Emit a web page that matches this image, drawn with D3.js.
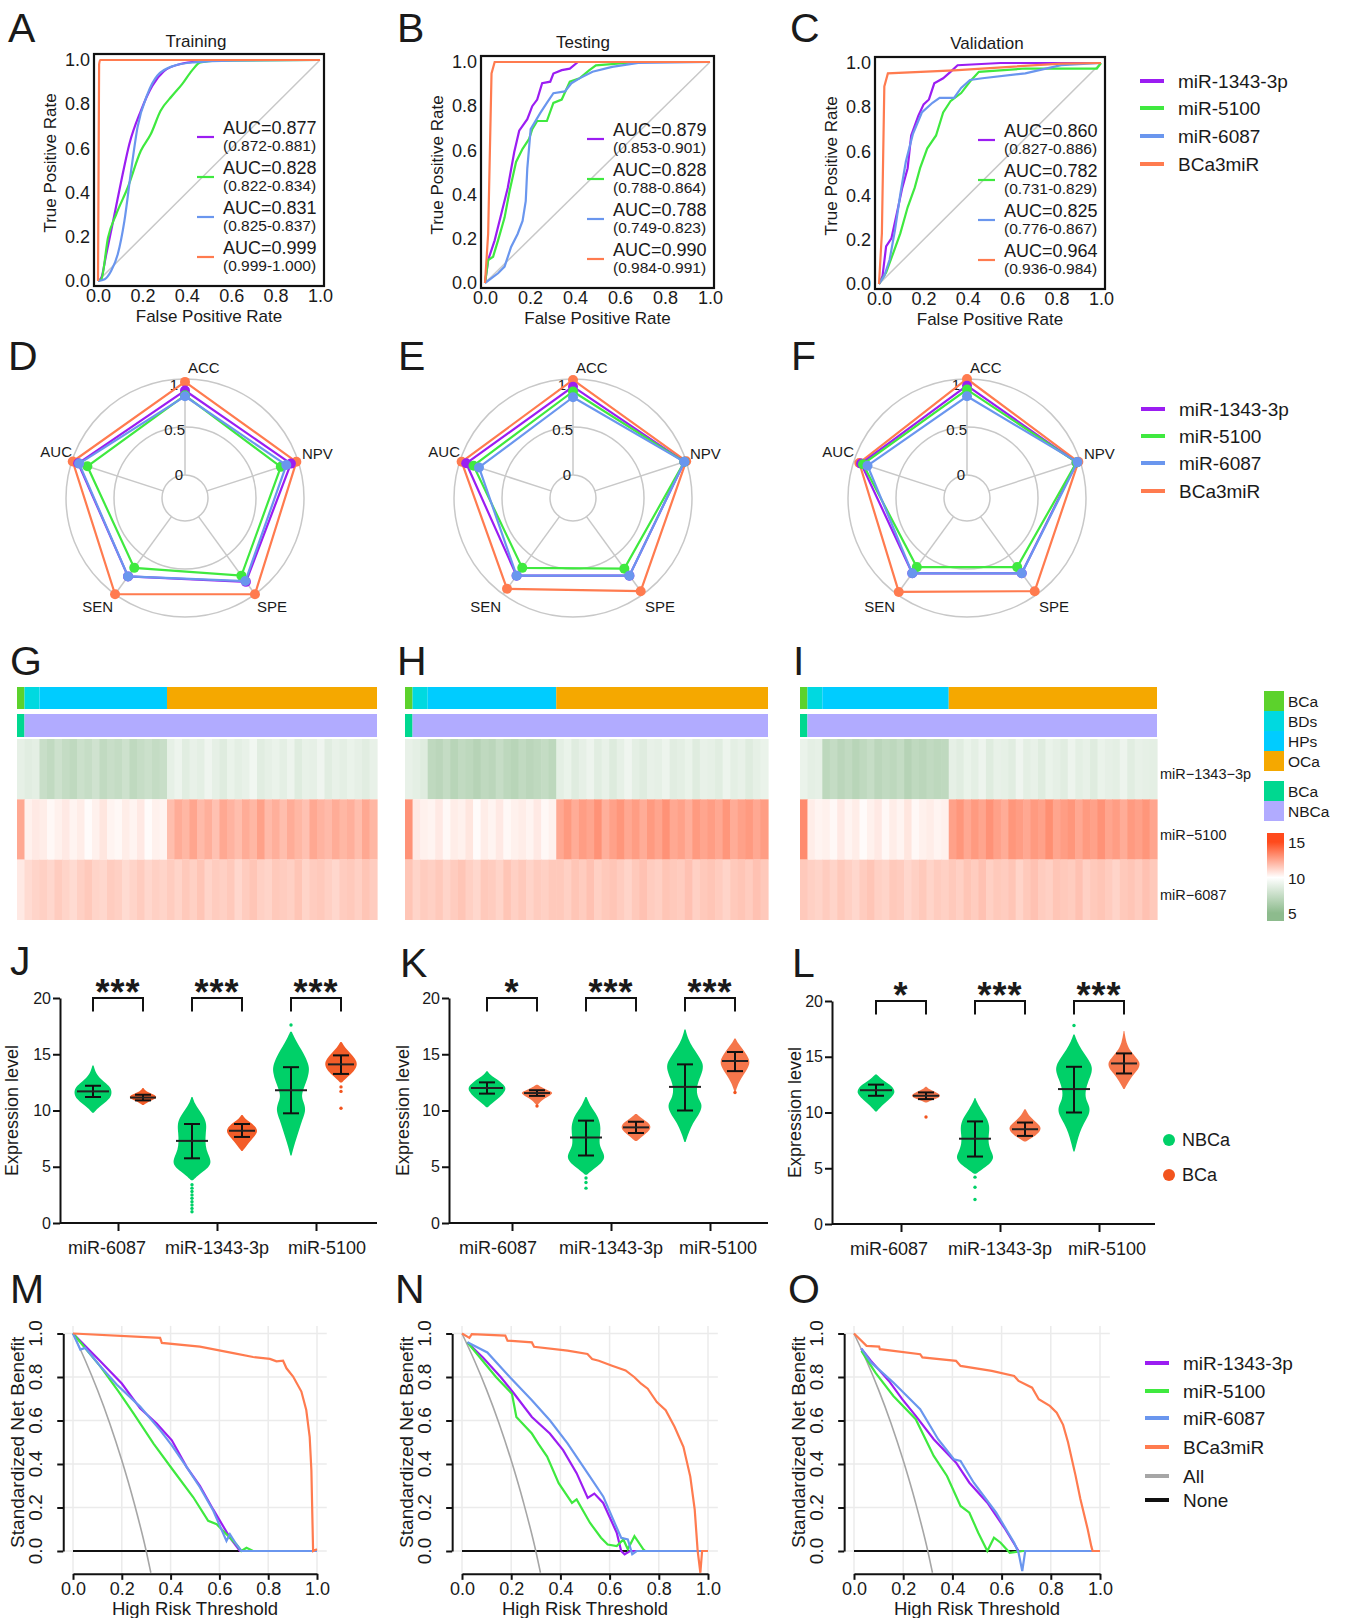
<!DOCTYPE html>
<html>
<head>
<meta charset="utf-8">
<script src="https://cdn.jsdelivr.net/npm/d3@7"></script>
<style>
  body { margin: 0; background: #fff; }
  svg { display: block; }
  text { font-family: "Liberation Sans", Arial, sans-serif; fill: #1a1a1a; }
</style>
</head>
<body>
<div id="figure"></div>
<script>
// ---------------- data ----------------
const models = ["miR-1343-3p", "miR-5100", "miR-6087", "BCa3miR"];
const modelColors = ["#9b1df2", "#3fe93f", "#6a96ee", "#ff7b4f"];

// ROC curves, [FPR, TPR]
const rocTrain1343 = [[0,0],[0.015,0.015],[0.037,0.12],[0.074,0.30],[0.111,0.483],[0.141,0.619],[0.193,0.77],[0.245,0.884],[0.297,0.949],[0.371,0.982],[0.461,0.994],[0.61,1],[1,1]];
const rocTrain5100 = [[0,0],[0.015,0.008],[0.045,0.196],[0.082,0.302],[0.134,0.423],[0.193,0.589],[0.238,0.665],[0.282,0.77],[0.334,0.838],[0.379,0.891],[0.423,0.952],[0.461,0.989],[0.535,0.997],[1,1]];
const rocTrain6087 = [[0,0],[0.03,0.008],[0.059,0.045],[0.089,0.121],[0.119,0.272],[0.149,0.498],[0.178,0.695],[0.223,0.846],[0.267,0.929],[0.342,0.974],[0.431,0.989],[0.609,0.997],[1,1]];
const rocTrain3miR = [[0,0],[0.005,0.98],[0.01,1],[1,1]];

const rocTest1343 = [[0,0],[0.014,0.104],[0.043,0.193],[0.072,0.311],[0.101,0.43],[0.13,0.593],[0.152,0.689],[0.188,0.741],[0.21,0.8],[0.232,0.83],[0.254,0.904],[0.29,0.911],[0.304,0.948],[0.341,0.963],[0.377,0.97],[0.413,1],[1,1]];
const rocTest5100 = [[0,0],[0.014,0.104],[0.036,0.119],[0.058,0.193],[0.087,0.296],[0.109,0.415],[0.138,0.548],[0.167,0.607],[0.196,0.652],[0.21,0.696],[0.232,0.733],[0.275,0.733],[0.304,0.815],[0.341,0.83],[0.377,0.911],[0.42,0.926],[0.464,0.963],[0.493,0.985],[0.681,1],[1,1]];
const rocTest6087 = [[0,0],[0.058,0.044],[0.087,0.074],[0.116,0.163],[0.145,0.222],[0.167,0.281],[0.181,0.37],[0.188,0.519],[0.203,0.696],[0.246,0.77],[0.275,0.815],[0.304,0.859],[0.355,0.867],[0.384,0.904],[0.42,0.926],[0.478,0.956],[0.565,0.978],[0.681,0.996],[1,1]];
const rocTest3miR = [[0,0],[0.014,0.222],[0.029,0.948],[0.043,1],[1,1]];

const rocVal1343 = [[0,0],[0.016,0.037],[0.032,0.17],[0.056,0.207],[0.08,0.318],[0.105,0.436],[0.129,0.524],[0.145,0.672],[0.177,0.761],[0.201,0.813],[0.225,0.835],[0.249,0.908],[0.289,0.931],[0.322,0.96],[0.354,0.99],[0.547,1],[1,1]];
const rocVal5100 = [[0,0],[0.032,0.052],[0.064,0.14],[0.096,0.229],[0.129,0.347],[0.161,0.436],[0.185,0.524],[0.217,0.613],[0.257,0.672],[0.289,0.776],[0.322,0.827],[0.37,0.864],[0.41,0.916],[0.45,0.96],[0.659,0.975],[0.981,0.975],[1,1]];
const rocVal6087 = [[0,0],[0.024,0.037],[0.048,0.111],[0.072,0.244],[0.096,0.406],[0.121,0.554],[0.153,0.68],[0.193,0.776],[0.241,0.82],[0.273,0.842],[0.338,0.842],[0.37,0.887],[0.41,0.923],[0.466,0.931],[0.659,0.953],[0.82,0.99],[1,1]];
const rocVal3miR = [[0,0],[0.013,0.229],[0.024,0.894],[0.04,0.953],[0.338,0.967],[0.82,0.997],[1,1]];

const aucTrain = ["0.877", "0.828", "0.831", "0.999"];
const ciTrain = ["0.872-0.881", "0.822-0.834", "0.825-0.837", "0.999-1.000"];
const aucTest = ["0.879", "0.828", "0.788", "0.990"];
const ciTest = ["0.853-0.901", "0.788-0.864", "0.749-0.823", "0.984-0.991"];
const aucVal = ["0.860", "0.782", "0.825", "0.964"];
const ciVal = ["0.827-0.886", "0.731-0.829", "0.776-0.867", "0.936-0.984"];

// radar, one row per model, columns follow radarAxes
const radarAxes = ["ACC", "NPV", "SPE", "SEN", "AUC"];
const radarTicks = [0, 0.5, 1];
const radarTrain = [[0.88,0.92,0.84,0.77,0.93],[0.83,0.81,0.76,0.66,0.83],[0.82,0.87,0.83,0.77,0.92],[0.97,0.98,1.0,1.0,0.99]];
const radarTest = [[0.92,0.98,0.76,0.76,0.93],[0.87,0.98,0.67,0.66,0.85],[0.81,0.98,0.76,0.76,0.79],[0.99,1.0,0.96,0.93,0.98]];
const radarVal = [[0.93,0.96,0.73,0.73,0.92],[0.89,0.96,0.65,0.65,0.90],[0.82,0.97,0.73,0.73,0.85],[1.0,0.98,0.96,0.97,0.94]];

// heatmap
const hmGenes = ["miR\u22121343\u22123p", "miR\u22125100", "miR\u22126087"];
const hmGroups = ["BCa", "BDs", "HPs", "OCa"];
const hmGroupCols = [1, 2, 17, 28];
const hmStatus = ["BCa", "NBCa"];
const hmG1343 = [8.9, 8.7,8.8, 7.6,7.3,7.8,7.4,7.2,7.7,7.5,7.9,7.3,7.6,7.4,7.8,7.2,7.5,7.7,7.4,7.6, 8.9,9.2,8.7,9.0,8.8,9.3,8.9,8.6,9.1,8.8,9.0,9.4,8.7,8.9,9.1,8.8,9.2,8.6,9.0,8.9,9.3,8.7,9.0,8.8,9.1,8.9,8.7,9.0];
const hmG5100 = [12.4, 10.4,10.6, 10.5,10.2,10.4,10.6,10.3,10.5,10.1,10.4,10.7,10.3,10.2,10.5,10.3,10.6,10.1,10.4,10.3, 11.8,12.3,12.0,12.5,11.9,12.2,11.7,12.4,12.1,11.8,12.3,12.0,12.6,11.9,12.2,11.8,12.3,12.0,11.7,12.4,12.1,11.9,12.3,12.0,12.2,11.8,12.4,12.0];
const hmG6087 = [10.6, 11.0,11.2, 11.3,11.1,11.4,11.2,11.0,11.3,11.5,11.2,11.1,11.4,11.3,11.0,11.2,11.4,11.1,11.3,11.2, 11.4,11.2,11.5,11.3,11.6,11.2,11.4,11.3,11.5,11.1,11.4,11.6,11.3,11.2,11.5,11.4,11.3,11.6,11.2,11.4,11.5,11.3,11.1,11.4,11.5,11.3,11.6,11.4];
const hmH1343 = [9.0, 8.8,8.6, 7.2,7.0,7.4,6.9,7.3,7.1,6.8,7.2,7.0,7.5,7.1,6.9,7.3,7.0,7.2,7.4,7.1, 8.8,9.1,8.6,8.9,9.2,8.7,9.0,8.5,8.9,9.3,8.8,8.6,9.0,8.9,9.2,8.7,8.8,9.1,8.6,9.0,8.9,8.7,9.2,8.8,9.0,8.6,8.9,9.1];
const hmH5100 = [13.0, 10.6,10.4, 10.3,10.6,10.2,10.5,10.4,10.7,10.1,10.5,10.3,10.6,10.2,10.4,10.5,10.3,10.6,10.2,10.4, 12.4,12.8,12.3,12.7,12.5,13.0,12.2,12.6,12.9,12.4,12.7,12.3,12.8,12.5,13.0,12.4,12.6,12.2,12.8,12.5,12.7,12.4,12.9,12.3,12.6,12.8,12.4,12.7];
const hmH6087 = [11.6, 11.2,11.4, 11.3,11.5,11.2,11.4,11.6,11.3,11.1,11.5,11.4,11.2,11.6,11.3,11.5,11.2,11.4,11.3,11.5, 11.5,11.3,11.6,11.4,11.7,11.3,11.5,11.6,11.4,11.2,11.5,11.7,11.4,11.3,11.6,11.5,11.4,11.7,11.3,11.5,11.6,11.4,11.2,11.5,11.6,11.4,11.7,11.5];
const hmI1343 = [9.1, 8.8,8.9, 7.1,7.4,7.0,7.3,6.9,7.2,7.5,7.0,7.3,7.1,7.4,6.8,7.2,7.0,7.3,7.1,7.2, 8.9,8.7,9.1,8.8,9.2,8.6,9.0,8.9,8.7,9.3,8.8,9.0,8.6,9.1,8.9,8.7,9.2,8.8,9.0,8.6,9.1,8.9,8.8,9.2,8.7,9.0,8.9,8.8];
const hmI5100 = [13.2, 10.5,10.3, 10.4,10.2,10.6,10.3,10.5,10.1,10.4,10.6,10.2,10.5,10.3,10.7,10.2,10.4,10.5,10.3,10.4, 12.6,12.9,12.4,12.8,12.5,13.0,12.6,12.3,12.9,12.7,12.4,12.8,12.6,13.1,12.5,12.7,12.9,12.4,12.8,12.6,13.0,12.5,12.7,12.3,12.8,12.6,12.9,12.5];
const hmI6087 = [11.5, 11.3,11.2, 11.4,11.2,11.5,11.3,11.1,11.4,11.6,11.3,11.2,11.5,11.4,11.1,11.3,11.5,11.2,11.4,11.3, 11.5,11.3,11.6,11.4,11.7,11.3,11.5,11.4,11.6,11.2,11.5,11.7,11.4,11.3,11.6,11.5,11.4,11.7,11.3,11.5,11.6,11.4,11.2,11.5,11.6,11.4,11.7,11.5];
const hmLegendTicks = [5, 10, 15];

// expression swarms: outline as [expression, relative width]
const exprGenes = ["miR-6087", "miR-1343-3p", "miR-5100"];
const exprTicks = [0, 5, 10, 15, 20];
const swJGreen = [
  [[9.8,0.04],[10.2,0.25],[10.6,0.55],[11.0,0.85],[11.5,1.0],[12.0,0.95],[12.4,0.7],[12.8,0.4],[13.3,0.15],[14.0,0.03]],
  [[3.8,0.05],[4.2,0.3],[4.6,0.6],[5.0,0.9],[5.4,1.0],[5.9,0.92],[6.5,0.75],[7.2,0.7],[8.0,0.72],[8.8,0.78],[9.5,0.6],[10.1,0.35],[10.6,0.15],[11.2,0.03]],
  [[6.0,0.03],[6.8,0.15],[7.6,0.3],[8.4,0.45],[9.2,0.6],[10.0,0.78],[10.6,0.7],[11.2,0.55],[11.8,0.62],[12.6,0.82],[13.4,0.95],[14.0,0.95],[14.8,0.75],[15.4,0.55],[16.0,0.33],[16.6,0.15],[17.0,0.04]]];
const swJOrange = [
  [[10.5,0.04],[10.8,0.3],[11.0,0.6],[11.2,0.74],[11.4,0.6],[11.6,0.3],[11.8,0.1],[12.0,0.03]],
  [[6.4,0.03],[6.9,0.25],[7.4,0.5],[7.9,0.75],[8.2,0.82],[8.6,0.7],[9.0,0.4],[9.3,0.15],[9.6,0.03]],
  [[12.5,0.05],[13.0,0.35],[13.5,0.7],[14.1,0.88],[14.6,0.75],[15.1,0.5],[15.6,0.2],[16.1,0.03]]];
const swKGreen = [
  [[10.3,0.04],[10.7,0.3],[11.2,0.7],[11.7,0.95],[12.1,1.0],[12.5,0.75],[12.9,0.4],[13.2,0.15],[13.5,0.03]],
  [[4.3,0.05],[4.8,0.4],[5.3,0.8],[5.8,1.0],[6.3,0.9],[6.9,0.7],[7.6,0.72],[8.4,0.78],[9.2,0.7],[9.9,0.45],[10.5,0.2],[11.2,0.03]],
  [[7.2,0.03],[7.8,0.15],[8.5,0.3],[9.2,0.55],[10.0,0.85],[10.6,0.9],[11.2,0.65],[12.0,0.6],[12.8,0.75],[13.6,0.95],[14.2,0.95],[14.9,0.7],[15.6,0.4],[16.4,0.15],[17.2,0.03]]];
const swKOrange = [
  [[10.5,0.03],[11.0,0.3],[11.4,0.75],[11.6,0.85],[11.8,0.55],[12.1,0.2],[12.3,0.03]],
  [[7.3,0.05],[7.8,0.4],[8.2,0.7],[8.6,0.8],[9.0,0.6],[9.3,0.3],[9.7,0.04]],
  [[11.7,0.03],[12.5,0.2],[13.2,0.45],[13.8,0.7],[14.4,0.8],[15.0,0.6],[15.6,0.35],[16.0,0.15],[16.4,0.03]]];
const swLGreen = [
  [[10.1,0.04],[10.6,0.3],[11.1,0.65],[11.6,0.95],[12.0,1.0],[12.5,0.75],[12.9,0.35],[13.4,0.04]],
  [[4.5,0.05],[5.0,0.45],[5.5,0.85],[6.0,1.0],[6.5,0.85],[7.2,0.7],[8.0,0.72],[8.8,0.78],[9.6,0.6],[10.3,0.3],[11.0,0.08],[11.3,0.02]],
  [[6.5,0.03],[7.3,0.15],[8.2,0.3],[9.0,0.5],[9.8,0.8],[10.5,0.85],[11.2,0.6],[12.0,0.6],[12.8,0.75],[13.6,0.95],[14.2,0.95],[14.9,0.7],[15.6,0.4],[16.4,0.15],[17.0,0.03]]];
const swLOrange = [
  [[10.9,0.03],[11.2,0.5],[11.5,0.85],[11.8,0.55],[12.1,0.15],[12.3,0.03]],
  [[7.4,0.05],[7.8,0.45],[8.3,0.8],[8.7,0.85],[9.1,0.6],[9.6,0.25],[10.3,0.03]],
  [[12.1,0.03],[12.8,0.25],[13.5,0.55],[14.0,0.8],[14.5,0.85],[15.0,0.6],[15.5,0.35],[16.2,0.12],[17.3,0.02]]];
// single outlying samples
const outJGreen = [[], [3.4,3.1,2.8,2.5,2.2,1.9,1.6,1.3,1.0], [17.6]];
const outJOrange = [[], [], [12.1,11.7,10.2]];
const outKGreen = [[], [4.0,3.6,3.1], []];
const outKOrange = [[10.4], [], [11.6]];
const outLGreen = [[], [4.2,3.3,2.2], [17.8]];
const outLOrange = [[9.6], [], []];
// mean, mean+SD, mean-SD
const barJGreen = [[11.7,12.2,11.2],[7.3,8.8,5.75],[11.8,13.85,9.75]];
const barJOrange = [[11.15,11.4,10.9],[8.2,8.8,7.65],[14.1,14.9,13.25]];
const barKGreen = [[12.0,12.5,11.5],[7.6,9.1,6.0],[12.1,14.1,10.0]];
const barKOrange = [[11.55,11.8,11.3],[8.5,9.0,8.0],[14.4,15.2,13.5]];
const barLGreen = [[12.0,12.5,11.5],[7.65,9.2,6.05],[12.1,14.1,10.0]];
const barLOrange = [[11.5,11.8,11.2],[8.5,9.1,7.9],[14.4,15.3,13.5]];
const starsJ = ["***", "***", "***"];
const starsK = ["*", "***", "***"];
const starsL = ["*", "***", "***"];

// decision curves, [threshold, standardized net benefit]
const dcaNone = [[0,0],[1,0]];
const dcaAll = [[0,1],[0.05,0.877],[0.1,0.741],[0.15,0.589],[0.2,0.417],[0.25,0.223],[0.3,0.0],[0.319,-0.1]];
const dcaM1343 = [[0,1],[0.112,0.872],[0.2,0.77],[0.275,0.656],[0.343,0.586],[0.405,0.509],[0.466,0.386],[0.52,0.30],[0.575,0.19],[0.643,0.062],[0.684,0],[1,0]];
const dcaM5100 = [[0,1],[0.112,0.849],[0.187,0.733],[0.248,0.633],[0.33,0.494],[0.411,0.37],[0.493,0.247],[0.554,0.139],[0.589,0.123],[0.629,0.077],[0.67,0.03],[0.69,0.0],[0.711,0.015],[0.738,0],[1,0]];
const dcaM6087 = [[0,1],[0.03,0.926],[0.05,0.934],[0.112,0.849],[0.18,0.764],[0.275,0.664],[0.357,0.556],[0.405,0.486],[0.466,0.386],[0.52,0.293],[0.575,0.185],[0.629,0.046],[0.643,0.077],[0.67,0.03],[0.69,0],[1,0]];
const dcaM3miR = [[0,1],[0.357,0.98],[0.364,0.957],[0.52,0.94],[0.657,0.91],[0.738,0.892],[0.807,0.883],[0.834,0.872],[0.861,0.875],[0.875,0.84],[0.902,0.802],[0.936,0.733],[0.956,0.648],[0.97,0.525],[0.977,0.37],[0.984,0],[1,0.008]];
const dcaN1343 = [[0.022,0.959],[0.085,0.89],[0.158,0.799],[0.212,0.723],[0.284,0.616],[0.357,0.54],[0.411,0.464],[0.466,0.358],[0.511,0.244],[0.538,0.264],[0.574,0.221],[0.629,0.084],[0.647,0],[0.661,-0.015],[0.683,0],[1,0]];
const dcaN5100 = [[0.022,0.96],[0.139,0.799],[0.203,0.723],[0.221,0.616],[0.284,0.54],[0.31,0.494],[0.346,0.434],[0.393,0.312],[0.447,0.221],[0.466,0.237],[0.52,0.13],[0.565,0.061],[0.592,0.03],[0.629,0.023],[0.656,0.053],[0.674,0.008],[0.701,0.068],[0.737,0.008],[0.745,0],[1,0]];
const dcaN6087 = [[0.022,0.96],[0.103,0.913],[0.194,0.8],[0.284,0.693],[0.357,0.601],[0.429,0.495],[0.52,0.342],[0.574,0.251],[0.629,0.107],[0.647,0.061],[0.674,0.053],[0.692,-0.015],[0.71,0],[1,0]];
const dcaN3miR = [[0,1],[0.03,0.98],[0.04,0.997],[0.176,0.99],[0.185,0.967],[0.284,0.959],[0.293,0.939],[0.429,0.921],[0.51,0.906],[0.529,0.883],[0.556,0.875],[0.61,0.852],[0.665,0.83],[0.701,0.799],[0.728,0.769],[0.755,0.746],[0.792,0.685],[0.828,0.647],[0.864,0.571],[0.9,0.479],[0.928,0.342],[0.946,0.19],[0.958,0],[0.969,-0.1],[0.976,0],[1,0]];
const dcaO1343 = [[0.03,0.93],[0.069,0.874],[0.142,0.782],[0.196,0.698],[0.251,0.621],[0.324,0.514],[0.415,0.406],[0.469,0.314],[0.542,0.222],[0.615,0.1],[0.669,0],[1,0]];
const dcaO5100 = [[0.03,0.92],[0.087,0.82],[0.16,0.713],[0.251,0.606],[0.324,0.437],[0.378,0.345],[0.433,0.207],[0.469,0.176],[0.505,0.084],[0.542,0],[0.569,0.061],[0.596,0.038],[0.633,-0.008],[0.687,0],[1,0]];
const dcaO6087 = [[0.03,0.93],[0.069,0.867],[0.16,0.775],[0.269,0.652],[0.342,0.514],[0.406,0.422],[0.433,0.414],[0.487,0.314],[0.578,0.176],[0.651,0.038],[0.669,-0.008],[0.684,-0.092],[0.696,0],[1,0]];
const dcaO3miR = [[0,1],[0.051,0.943],[0.102,0.94],[0.105,0.928],[0.269,0.905],[0.278,0.89],[0.415,0.874],[0.433,0.851],[0.56,0.828],[0.651,0.805],[0.669,0.782],[0.724,0.751],[0.751,0.698],[0.796,0.667],[0.824,0.636],[0.85,0.58],[0.87,0.5],[0.9,0.35],[0.92,0.24],[0.95,0.1],[0.965,0.02],[0.97,0],[1,0]];
const dcaTicks = [0, 0.2, 0.4, 0.6, 0.8, 1];

// ---------------- drawing ----------------
const svg = d3.select("#figure").append("svg").attr("width", 1349).attr("height", 1618);
const fmt1 = d3.format(".1f");
const green = "#00d068", orange = "#f2541e";

function letter(t, x, y) {
  svg.append("text").attr("x", x).attr("y", y).attr("font-size", 41).text(t);
}

function styleAxis(a, size) {
  a.selectAll("text").attr("font-size", size);
  a.selectAll("line").attr("stroke", "#111").attr("stroke-width", 2);
  a.select(".domain").attr("stroke", "#111").attr("stroke-width", 2);
}

function drawROC(box, title, titleX, titleY, curves, aucs, cis, smooth) {
  const x = d3.scaleLinear().domain([0, 1]).range([box.x0 + 4, box.x1 - 4]);
  const y = d3.scaleLinear().domain([0, 1]).range([box.y1 - 5, box.y0 + 6]);
  const g = svg.append("g");
  g.append("line").attr("x1", x(0)).attr("y1", y(0)).attr("x2", x(1)).attr("y2", y(1))
    .attr("stroke", "#c8c8c8").attr("stroke-width", 1.5);
  const line = d3.line().x(d => x(d[0])).y(d => y(d[1]))
    .curve(smooth ? d3.curveMonotoneX : d3.curveLinear);
  curves.forEach((c, i) => {
    g.append("path").datum(c).attr("d", line).attr("fill", "none")
      .attr("stroke", modelColors[i]).attr("stroke-width", 2.2);
  });
  g.append("rect").attr("x", box.x0).attr("y", box.y0)
    .attr("width", box.x1 - box.x0).attr("height", box.y1 - box.y0)
    .attr("fill", "none").attr("stroke", "#111").attr("stroke-width", 2.2);

  const ticks = [0, 0.2, 0.4, 0.6, 0.8, 1];
  const ay = g.append("g").attr("transform", `translate(${box.x0},0)`)
    .call(d3.axisLeft(y).tickValues(ticks).tickFormat(fmt1).tickSize(0).tickPadding(4));
  const ax = g.append("g").attr("transform", `translate(0,${box.y1})`)
    .call(d3.axisBottom(x).tickValues(ticks).tickFormat(fmt1).tickSize(0).tickPadding(3));
  [ay, ax].forEach(a => { a.select(".domain").remove(); a.selectAll("text").attr("font-size", 18); });

  g.append("text").attr("x", titleX).attr("y", titleY).attr("text-anchor", "middle")
    .attr("font-size", 17).text(title);
  g.append("text").attr("x", (box.x0 + box.x1) / 2).attr("y", box.y1 + 36)
    .attr("text-anchor", "middle").attr("font-size", 17).text("False Positive Rate");
  g.append("text").attr("transform", `translate(${box.x0 - 38},${(box.y0 + box.y1) / 2 - 7}) rotate(-90)`)
    .attr("text-anchor", "middle").attr("font-size", 17).text("True Positive Rate");

  aucs.forEach((a, i) => {
    const by = box.y0 + 80 + i * 40;
    g.append("line").attr("x1", box.x1 - 127).attr("x2", box.x1 - 110)
      .attr("y1", by + 3).attr("y2", by + 3)
      .attr("stroke", modelColors[i]).attr("stroke-width", 2.2);
    g.append("text").attr("x", box.x1 - 101).attr("y", by).attr("font-size", 18).text("AUC=" + a);
    g.append("text").attr("x", box.x1 - 101).attr("y", by + 17).attr("font-size", 15.5).text("(" + cis[i] + ")");
  });
}

function drawRadar(cx, cy, vals) {
  const g = svg.append("g");
  const r = d3.scaleLinear().domain([0, 1]).range([23, 119]);
  const pt = (v, i) => {
    const a = -Math.PI / 2 + i * 2 * Math.PI / radarAxes.length;
    return [cx + r(v) * Math.cos(a), cy + r(v) * Math.sin(a)];
  };
  radarTicks.forEach(v => {
    g.append("circle").attr("cx", cx).attr("cy", cy).attr("r", r(v))
      .attr("fill", "none").attr("stroke", "#c8c8c8").attr("stroke-width", 1.5);
  });
  radarAxes.forEach((a, i) => {
    const p0 = pt(0, i), p1 = pt(1, i);
    g.append("line").attr("x1", p0[0]).attr("y1", p0[1]).attr("x2", p1[0]).attr("y2", p1[1])
      .attr("stroke", "#c8c8c8").attr("stroke-width", 1.5);
  });
  const tickDy = [5, 8, 11], tickDx = [-2, 0, -7];
  radarTicks.forEach((v, i) => {
    g.append("text").attr("x", cx + tickDx[i]).attr("y", cy - r(v) + tickDy[i])
      .attr("text-anchor", "end").attr("font-size", 15).text(v);
  });
  [3, 0, 1, 2].forEach(m => {
    const pts = vals[m].map((v, i) => pt(v, i));
    g.append("path").attr("d", d3.line().curve(d3.curveLinearClosed)(pts))
      .attr("fill", "none").attr("stroke", modelColors[m]).attr("stroke-width", 2.2);
    pts.forEach(p => g.append("circle").attr("cx", p[0]).attr("cy", p[1]).attr("r", 5).attr("fill", modelColors[m]));
  });
  const lab = [
    { dx: 3, dy: -125, a: "start" }, { dx: 117, dy: -39, a: "start" },
    { dx: 72, dy: 114, a: "start" }, { dx: -72, dy: 114, a: "end" }, { dx: -113, dy: -41, a: "end" }];
  radarAxes.forEach((a, i) => {
    g.append("text").attr("x", cx + lab[i].dx).attr("y", cy + lab[i].dy)
      .attr("text-anchor", lab[i].a).attr("font-size", 15).text(a);
  });
}

const hmColor = d3.scaleLinear().domain([5, 10, 15]).range(["#8dbb8d", "#ffffff", "#ff4a1c"]).clamp(true);
const hmGroupColors = ["#5cd22c", "#00d9e0", "#00ccff", "#f5a800"];
const hmStatusColors = ["#00d890", "#b1abff"];

function drawHeatmap(x0, x1, rows) {
  const g = svg.append("g");
  const x = d3.scaleBand().domain(d3.range(rows[0].length)).range([x0, x1]);
  const yr = d3.scaleBand().domain(hmGenes).range([739, 920]);
  let start = 0;
  hmGroupCols.forEach((n, gi) => {
    g.append("rect").attr("x", x(start)).attr("y", 687).attr("width", x.step() * n).attr("height", 22)
      .attr("fill", hmGroupColors[gi]);
    start += n;
  });
  const nB = hmGroupCols[0];
  g.append("rect").attr("x", x(0)).attr("y", 714).attr("width", x.step() * nB).attr("height", 23).attr("fill", hmStatusColors[0]);
  g.append("rect").attr("x", x(nB)).attr("y", 714).attr("width", x1 - x(nB)).attr("height", 23).attr("fill", hmStatusColors[1]);
  rows.forEach((vals, ri) => {
    g.selectAll(null).data(vals).enter().append("rect")
      .attr("x", (d, i) => x(i)).attr("y", yr(hmGenes[ri]))
      .attr("width", x.bandwidth() + 0.6).attr("height", yr.bandwidth())
      .attr("fill", d => hmColor(d));
  });
  return yr;
}

function drawExpr(cfg) {
  const g = svg.append("g");
  const y = d3.scaleLinear().domain([0, 20]).range([cfg.y0, cfg.y20]);
  const x = d3.scalePoint().domain(exprGenes).range([cfg.axisX + cfg.first, cfg.axisX + cfg.first + 198]);
  const w = d3.scaleLinear().domain([0, 1]).range([0, 19]);
  const sides = [
    { sw: cfg.green, out: cfg.greenOut, bar: cfg.greenBar, col: green, off: -25, mh: 16, op: 1 },
    { sw: cfg.orange, out: cfg.orangeOut, bar: cfg.orangeBar, col: orange, off: 25, mh: 13, op: cfg.orangeOp }];
  exprGenes.forEach((gene, gi) => {
    sides.forEach(s => {
      const cx = x(gene) + s.off;
      const area = d3.area().y(d => y(d[0])).x0(d => cx - w(d[1])).x1(d => cx + w(d[1])).curve(d3.curveBasis);
      g.append("path").datum(s.sw[gi]).attr("d", area).attr("fill", s.col).attr("fill-opacity", s.op);
      s.out[gi].forEach(v => g.append("circle").attr("cx", cx).attr("cy", y(v)).attr("r", 1.7).attr("fill", s.col));
      const b = s.bar[gi];
      g.append("line").attr("x1", cx).attr("x2", cx).attr("y1", y(b[1])).attr("y2", y(b[2])).attr("stroke", "#111").attr("stroke-width", 2);
      [b[1], b[2]].forEach(v => g.append("line").attr("x1", cx - 8).attr("x2", cx + 8).attr("y1", y(v)).attr("y2", y(v)).attr("stroke", "#111").attr("stroke-width", 2));
      g.append("line").attr("x1", cx - s.mh).attr("x2", cx + s.mh).attr("y1", y(b[0])).attr("y2", y(b[0])).attr("stroke", "#222").attr("stroke-width", 2);
    });
    // significance bracket
    const bx0 = x(gene) - 25, bx1 = x(gene) + 25;
    g.append("path").attr("d", `M${bx0},${y(18.8)}V${y(20)}H${bx1}V${y(18.8)}`)
      .attr("fill", "none").attr("stroke", "#111").attr("stroke-width", 2);
    g.append("text").attr("x", x(gene)).attr("y", y(20) + 7).attr("text-anchor", "middle")
      .attr("font-size", 36).attr("font-weight", "bold").attr("letter-spacing", 1).text(cfg.stars[gi]);
    g.append("text").attr("x", x(gene) + cfg.labelShift[gi]).attr("y", cfg.y0 + 31)
      .attr("text-anchor", "middle").attr("font-size", 18).text(gene);
  });
  const ay = g.append("g").attr("transform", `translate(${cfg.axisX},0)`)
    .call(d3.axisLeft(y).tickValues(exprTicks).tickSize(7).tickPadding(2).tickSizeOuter(0));
  styleAxis(ay, 16);
  const ax = g.append("g").attr("transform", `translate(0,${cfg.y0})`)
    .call(d3.axisBottom(x).tickSize(8).tickFormat(""));
  styleAxis(ax, 16);
  ax.select(".domain").remove();
  g.append("line").attr("x1", cfg.axisX).attr("x2", cfg.endX).attr("y1", cfg.y0).attr("y2", cfg.y0)
    .attr("stroke", "#111").attr("stroke-width", 2);
  g.append("text").attr("transform", `translate(${cfg.labelX},${(cfg.y0 + cfg.y20) / 2}) rotate(-90)`)
    .attr("text-anchor", "middle").attr("font-size", 18).text("Expression level");
}

function drawDCA(x0, x1, curves) {
  const g = svg.append("g");
  const x = d3.scaleLinear().domain([0, 1]).range([x0, x1]);
  const y = d3.scaleLinear().domain([0, 1]).range([1551, 1333.5]);
  dcaTicks.forEach(t => {
    g.append("line").attr("x1", x(t)).attr("x2", x(t)).attr("y1", y(1.035)).attr("y2", y(-0.1))
      .attr("stroke", "#ebebeb").attr("stroke-width", 1.5);
    g.append("line").attr("x1", x(-0.04)).attr("x2", x(1.04)).attr("y1", y(t)).attr("y2", y(t))
      .attr("stroke", "#ebebeb").attr("stroke-width", 1.5);
  });
  const line = d3.line().x(d => x(d[0])).y(d => y(d[1]));
  g.append("path").datum(dcaNone).attr("d", line).attr("fill", "none").attr("stroke", "#111").attr("stroke-width", 2);
  g.append("path").datum(dcaAll).attr("d", line.curve(d3.curveMonotoneX)).attr("fill", "none").attr("stroke", "#a6a6a6").attr("stroke-width", 1.6);
  line.curve(d3.curveLinear);
  curves.forEach((c, i) => {
    g.append("path").datum(c).attr("d", line).attr("fill", "none")
      .attr("stroke", modelColors[i]).attr("stroke-width", 2.2);
  });
  const axX = x(-0.04), axY = y(-0.105);
  const ay = g.append("g").attr("transform", `translate(${axX},0)`)
    .call(d3.axisLeft(y).tickValues(dcaTicks).tickFormat("").tickSize(6).tickSizeOuter(0));
  styleAxis(ay, 18);
  dcaTicks.forEach(t => {
    g.append("text").attr("transform", `translate(${axX - 21},${y(t)}) rotate(-90)`)
      .attr("text-anchor", "middle").attr("font-size", 19).text(fmt1(t));
  });
  const ax = g.append("g").attr("transform", `translate(0,${axY})`)
    .call(d3.axisBottom(x).tickValues(dcaTicks).tickFormat(fmt1).tickSize(6).tickPadding(2).tickSizeOuter(0));
  styleAxis(ax, 18);
  g.append("text").attr("x", (x0 + x1) / 2).attr("y", 1615).attr("text-anchor", "middle")
    .attr("font-size", 18.5).text("High Risk Threshold");
  g.append("text").attr("transform", `translate(${axX - 39},${(y(0) + y(1)) / 2}) rotate(-90)`)
    .attr("text-anchor", "middle").attr("font-size", 19).text("Standardized Net Benefit");
}

function lineLegend(x, ys, labels, colors) {
  labels.forEach((l, i) => {
    svg.append("line").attr("x1", x).attr("x2", x + 24).attr("y1", ys[i]).attr("y2", ys[i])
      .attr("stroke", colors[i]).attr("stroke-width", 4);
    svg.append("text").attr("x", x + 38).attr("y", ys[i] + 7).attr("font-size", 19).text(l);
  });
}

// ----- row 1: ROC -----
drawROC({ x0: 94, x1: 324, y0: 54, y1: 286 }, "Training", 196, 47,
  [rocTrain1343, rocTrain5100, rocTrain6087, rocTrain3miR], aucTrain, ciTrain, true);
drawROC({ x0: 481, x1: 714, y0: 56, y1: 288 }, "Testing", 583, 48,
  [rocTest1343, rocTest5100, rocTest6087, rocTest3miR], aucTest, ciTest, false);
drawROC({ x0: 875, x1: 1105, y0: 57, y1: 289 }, "Validation", 987, 49,
  [rocVal1343, rocVal5100, rocVal6087, rocVal3miR], aucVal, ciVal, false);
lineLegend(1140, [81, 108, 136, 164], models, modelColors);

// ----- row 2: radar -----
drawRadar(185, 498, radarTrain);
drawRadar(573, 498, radarTest);
drawRadar(967, 498, radarVal);
lineLegend(1141, [409, 436, 463, 491], models, modelColors);

// ----- row 3: heatmaps -----
drawHeatmap(17, 377, [hmG1343, hmG5100, hmG6087]);
drawHeatmap(405, 768, [hmH1343, hmH5100, hmH6087]);
const hmRows = drawHeatmap(800, 1157, [hmI1343, hmI5100, hmI6087]);
hmGenes.forEach(gn => {
  svg.append("text").attr("x", 1160).attr("y", hmRows(gn) + hmRows.bandwidth() / 2 + 10)
    .attr("font-size", 14.5).text(gn);
});
hmGroups.forEach((gn, i) => {
  svg.append("rect").attr("x", 1264).attr("y", 691 + i * 20).attr("width", 20).attr("height", 20).attr("fill", hmGroupColors[i]);
  svg.append("text").attr("x", 1288).attr("y", 707 + i * 20).attr("font-size", 15.5).text(gn);
});
hmStatus.forEach((gn, i) => {
  svg.append("rect").attr("x", 1264).attr("y", 781 + i * 20).attr("width", 20).attr("height", 20).attr("fill", hmStatusColors[i]);
  svg.append("text").attr("x", 1288).attr("y", 797 + i * 20).attr("font-size", 15.5).text(gn);
});
const cbY = d3.scaleLinear().domain([5, 15]).range([913, 842]);
const grad = svg.append("defs").append("linearGradient").attr("id", "cbar")
  .attr("x1", 0).attr("x2", 0).attr("y1", 0).attr("y2", 1);
[16.3, 15, 12.5, 10, 7.5, 5, 3.9].forEach(v => {
  grad.append("stop").attr("offset", (cbY(v) - 833) / 88).attr("stop-color", hmColor(v));
});
svg.append("rect").attr("x", 1267).attr("y", 833).attr("width", 17).attr("height", 88).attr("fill", "url(#cbar)");
hmLegendTicks.forEach(v => {
  svg.append("text").attr("x", 1288).attr("y", cbY(v) + 6).attr("font-size", 15.5).text(v);
});

// ----- row 4: expression -----
drawExpr({ axisX: 60, endX: 377, y0: 1223, y20: 998, first: 58, labelX: 18, labelShift: [-11, 0, 11],
  green: swJGreen, orange: swJOrange, greenOut: outJGreen, orangeOut: outJOrange,
  greenBar: barJGreen, orangeBar: barJOrange, stars: starsJ, orangeOp: 0.95 });
drawExpr({ axisX: 449, endX: 768, y0: 1223, y20: 998, first: 63, labelX: 409, labelShift: [-14, 0, 8],
  green: swKGreen, orange: swKOrange, greenOut: outKGreen, orangeOut: outKOrange,
  greenBar: barKGreen, orangeBar: barKOrange, stars: starsK, orangeOp: 0.8 });
drawExpr({ axisX: 832, endX: 1155, y0: 1224, y20: 1001, first: 69, labelX: 801, labelShift: [-12, 0, 8],
  green: swLGreen, orange: swLOrange, greenOut: outLGreen, orangeOut: outLOrange,
  greenBar: barLGreen, orangeBar: barLOrange, stars: starsL, orangeOp: 0.8 });
[["NBCa", green, 1140], ["BCa", orange, 1175]].forEach(d => {
  svg.append("circle").attr("cx", 1169).attr("cy", d[2]).attr("r", 6).attr("fill", d[1]);
  svg.append("text").attr("x", 1182).attr("y", d[2] + 6).attr("font-size", 18).text(d[0]);
});

// ----- row 5: decision curves -----
drawDCA(73, 317, [dcaM1343, dcaM5100, dcaM6087, dcaM3miR]);
drawDCA(462, 708, [dcaN1343, dcaN5100, dcaN6087, dcaN3miR]);
drawDCA(854, 1100, [dcaO1343, dcaO5100, dcaO6087, dcaO3miR]);
lineLegend(1145, [1363, 1391, 1418, 1447, 1476, 1500],
  models.concat(["All", "None"]), modelColors.concat(["#a6a6a6", "#111"]));

// ----- panel letters -----
[["A", 8, 42], ["B", 397, 42], ["C", 790, 42], ["D", 8, 370], ["E", 398, 370], ["F", 791, 370],
 ["G", 10, 675], ["H", 397, 675], ["I", 793, 675], ["J", 10, 975], ["K", 400, 977], ["L", 792, 977],
 ["M", 10, 1303], ["N", 395, 1303], ["O", 788, 1303]].forEach(d => letter(d[0], d[1], d[2]));
</script>
</body>
</html>
